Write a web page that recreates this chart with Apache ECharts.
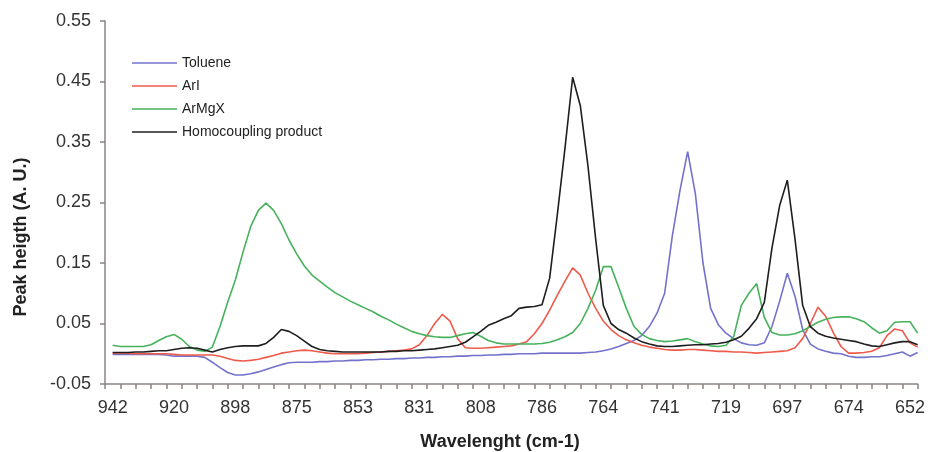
<!DOCTYPE html>
<html><head><meta charset="utf-8">
<script src="https://cdn.jsdelivr.net/npm/echarts@6/dist/echarts.min.js"></script>
<style>html,body{margin:0;padding:0;background:#fff}#c{width:928px;height:452px}</style>
</head><body><div id="c"></div>
<script>
// Wavenumber categories (cm-1); first slot is an empty lead-in position on the axis
const wavenumbers = [
  945, 942, 939, 937, 934, 931, 928, 925, 923, 920,
  917, 914, 911, 909, 906, 903, 900, 898, 895, 892,
  889, 886, 884, 881, 878, 875, 872, 870, 867, 864,
  861, 859, 856, 853, 850, 847, 845, 842, 839, 836,
  833, 831, 828, 825, 822, 819, 817, 814, 811, 808,
  806, 803, 800, 797, 794, 792, 789, 786, 783, 780,
  778, 775, 772, 769, 766, 764, 761, 758, 755, 753,
  750, 747, 744, 741, 739, 736, 733, 730, 727, 725,
  722, 719, 716, 713, 711, 708, 705, 702, 700, 697,
  694, 691, 688, 686, 683, 680, 677, 674, 672, 669,
  666, 663, 660, 658, 655, 652, 649
];

const toluene = [
  null, -0.001, -0.001, -0.001, -0.001, -0.001, -0.001, -0.001, -0.002, -0.004,
  -0.004, -0.004, -0.004, -0.006, -0.014, -0.023, -0.031, -0.035, -0.035, -0.033,
  -0.030, -0.026, -0.022, -0.018, -0.015, -0.014, -0.014, -0.014, -0.013, -0.013,
  -0.012, -0.012, -0.011, -0.011, -0.010, -0.010, -0.009, -0.009, -0.008, -0.008,
  -0.007, -0.007, -0.006, -0.006, -0.005, -0.005, -0.004, -0.004, -0.003, -0.003,
  -0.002, -0.002, -0.001, -0.001, 0.000, 0.000, 0.000, 0.001, 0.001, 0.001,
  0.001, 0.001, 0.001, 0.002, 0.003, 0.005, 0.008, 0.012, 0.017, 0.022,
  0.030, 0.045, 0.067, 0.100, 0.195, 0.270, 0.334, 0.265, 0.150, 0.075,
  0.048, 0.034, 0.025, 0.018, 0.015, 0.014, 0.018, 0.045, 0.087, 0.133,
  0.095, 0.040, 0.016, 0.008, 0.004, 0.001, 0.000, -0.004, -0.006, -0.006,
  -0.005, -0.005, -0.003, 0.000, 0.003, -0.004, 0.002
];

const arI = [
  null, 0.001, 0.001, 0.001, 0.000, 0.000, 0.000, 0.000, 0.000, -0.001,
  -0.002, -0.002, -0.002, -0.002, -0.002, -0.004, -0.008, -0.011, -0.012, -0.011,
  -0.009, -0.006, -0.003, 0.001, 0.003, 0.005, 0.006, 0.005, 0.003, 0.001,
  0.000, 0.000, 0.000, 0.000, 0.001, 0.002, 0.003, 0.004, 0.005, 0.006,
  0.008, 0.015, 0.030, 0.050, 0.065, 0.054, 0.025, 0.010, 0.009, 0.009,
  0.010, 0.011, 0.012, 0.013, 0.016, 0.020, 0.033, 0.050, 0.072, 0.097,
  0.120, 0.142, 0.130, 0.100, 0.075, 0.054, 0.040, 0.030, 0.023, 0.018,
  0.014, 0.011, 0.009, 0.007, 0.006, 0.006, 0.007, 0.007, 0.006, 0.005,
  0.004, 0.004, 0.003, 0.003, 0.002, 0.001, 0.002, 0.003, 0.004, 0.005,
  0.010, 0.025, 0.050, 0.077, 0.062, 0.035, 0.012, 0.001, 0.001, 0.002,
  0.004, 0.010, 0.030, 0.041, 0.038, 0.018, 0.011
];

const arMgX = [
  null, 0.014, 0.012, 0.012, 0.012, 0.012, 0.015, 0.022, 0.028, 0.032,
  0.024, 0.012, 0.006, 0.004, 0.011, 0.045, 0.085, 0.122, 0.168, 0.210,
  0.237, 0.249, 0.237, 0.215, 0.188, 0.165, 0.145, 0.130, 0.120, 0.110,
  0.101, 0.094, 0.087, 0.081, 0.075, 0.069, 0.062, 0.056, 0.049, 0.043,
  0.037, 0.033, 0.030, 0.028, 0.027, 0.027, 0.030, 0.033, 0.035, 0.029,
  0.022, 0.018, 0.016, 0.016, 0.016, 0.016, 0.016, 0.017, 0.019, 0.023,
  0.028, 0.035, 0.050, 0.075, 0.105, 0.144, 0.144, 0.110, 0.075, 0.045,
  0.032, 0.025, 0.022, 0.020, 0.021, 0.023, 0.025, 0.020, 0.016, 0.013,
  0.012, 0.014, 0.028, 0.080, 0.100, 0.116, 0.060, 0.035, 0.031, 0.031,
  0.033, 0.038, 0.045, 0.052, 0.057, 0.060, 0.061, 0.061, 0.058, 0.053,
  0.043, 0.034, 0.038, 0.052, 0.053, 0.053, 0.034
];

const homocoupling = [
  null, 0.002, 0.002, 0.002, 0.003, 0.003, 0.004, 0.005, 0.005, 0.007,
  0.009, 0.010, 0.009, 0.006, 0.003, 0.007, 0.010, 0.012, 0.013, 0.013,
  0.013, 0.017, 0.027, 0.040, 0.037, 0.030, 0.021, 0.012, 0.007, 0.005,
  0.004, 0.003, 0.003, 0.003, 0.003, 0.003, 0.003, 0.004, 0.004, 0.005,
  0.005, 0.006, 0.007, 0.008, 0.010, 0.012, 0.014, 0.019, 0.028, 0.037,
  0.047, 0.052, 0.058, 0.063, 0.075, 0.077, 0.078, 0.081, 0.125, 0.230,
  0.340, 0.457, 0.410, 0.310, 0.190, 0.080, 0.050, 0.040, 0.034, 0.026,
  0.020, 0.016, 0.013, 0.012, 0.012, 0.013, 0.014, 0.015, 0.015, 0.016,
  0.017, 0.019, 0.023, 0.029, 0.042, 0.058, 0.085, 0.175, 0.245, 0.287,
  0.190, 0.080, 0.045, 0.034, 0.029, 0.026, 0.024, 0.022, 0.020, 0.016,
  0.013, 0.012, 0.015, 0.018, 0.020, 0.020, 0.015
];

const yTicks = [-0.05, 0.05, 0.15, 0.25, 0.35, 0.45, 0.55];
const seriesNames = ['Toluene', 'ArI', 'ArMgX', 'Homocoupling product'];
const seriesColors = ['#7272cc', '#ef5b4b', '#46b25c', '#1e1e1e'];
const seriesData = [toluene, arI, arMgX, homocoupling];

const FONT = '"Liberation Sans", Arial, sans-serif';
const chart = echarts.init(document.getElementById('c'), null, {renderer: 'canvas'});
chart.setOption({
  animation: false,
  backgroundColor: '#ffffff',
  grid: {left: 105, right: 7, top: 21, bottom: 68, containLabel: false},
  legend: {
    data: seriesNames.map(function (n) { return {name: n, icon: 'rect'}; }),
    orient: 'vertical',
    left: 127,
    top: 50,
    itemWidth: 45,
    itemHeight: 1.6,
    itemGap: 7,
    textStyle: {fontFamily: FONT, fontSize: 14, color: '#222', lineHeight: 16}
  },
  xAxis: {
    type: 'category',
    data: wavenumbers.map(String),
    boundaryGap: false,
    axisLine: {show: true, onZero: false, lineStyle: {color: '#8a8583', width: 1.5}},
    axisTick: {show: true, inside: false, length: 5, lineStyle: {color: '#8a8583', width: 1.5},
      interval: function (i) { return i % 2 === 0; }},
    axisLabel: {show: true, margin: 15, fontFamily: FONT, fontSize: 18, color: '#333',
      interval: function (i) { return i % 8 === 1; }},
    splitLine: {show: false}
  },
  yAxis: {
    type: 'value',
    min: -0.05,
    max: 0.55,
    axisLine: {show: true, onZero: false, lineStyle: {color: '#8a8583', width: 1.5}},
    axisTick: {show: true, length: 5, customValues: yTicks, lineStyle: {color: '#8a8583', width: 1.5}},
    axisLabel: {show: true, margin: 14, fontFamily: FONT, fontSize: 18, color: '#333',
      customValues: yTicks, formatter: function (v) { return v.toFixed(2); }},
    splitLine: {show: false}
  },
  graphic: [
    {type: 'text', x: 500, y: 442,
      style: {text: 'Wavelenght (cm-1)', fontFamily: FONT, fontSize: 18, fontWeight: 'bold', fill: '#222',
        align: 'center', verticalAlign: 'middle', textAlign: 'center', textVerticalAlign: 'middle'}},
    {type: 'text', x: 21, y: 237, rotation: Math.PI / 2,
      style: {text: 'Peak heigth (A. U.)', fontFamily: FONT, fontSize: 18, fontWeight: 'bold', fill: '#222',
        align: 'center', verticalAlign: 'middle', textAlign: 'center', textVerticalAlign: 'middle'}}
  ],
  series: seriesNames.map(function (name, i) {
    return {
      name: name,
      type: 'line',
      data: seriesData[i],
      symbol: 'none',
      connectNulls: false,
      lineStyle: {color: seriesColors[i], width: 1.6},
      itemStyle: {color: seriesColors[i]}
    };
  })
});
</script>
</body></html>
